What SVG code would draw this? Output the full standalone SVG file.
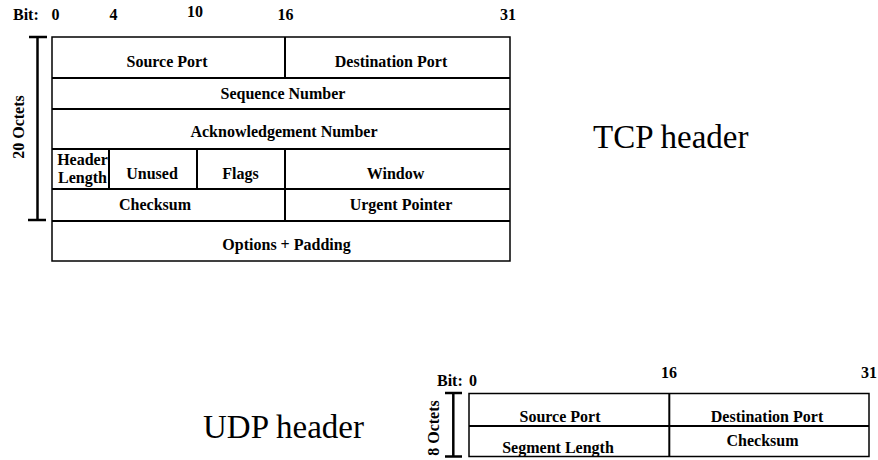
<svg xmlns="http://www.w3.org/2000/svg" width="878" height="460" viewBox="0 0 878 460">
<style>
.t{font-family:"Liberation Serif","Times New Roman",serif;font-size:16px;font-weight:bold;fill:#000}
.m{text-anchor:middle}
.big{font-family:"Liberation Serif","Times New Roman",serif;font-size:33px;fill:#000}
.box{fill:#fff;stroke:#000;stroke-width:1.5}
.ln{stroke:#000;stroke-width:2;fill:none}
.br{stroke:#000;stroke-width:2.5;fill:none}
</style>
<rect width="878" height="460" fill="#fff"/>

<g id="tcp-bits">
<text class="t" x="13" y="20">Bit:</text>
<text class="t m" x="55.5" y="20">0</text>
<text class="t m" x="113.5" y="20">4</text>
<text class="t m" x="195" y="17">10</text>
<text class="t m" x="285.5" y="20">16</text>
<text class="t m" x="508" y="20">31</text>
</g>

<g id="tcp-bracket">
<line class="br" x1="37.5" y1="37" x2="37.5" y2="220"/>
<line class="br" x1="29" y1="37" x2="47" y2="37"/>
<line class="br" x1="28" y1="220" x2="46" y2="220"/>
<text class="t m" transform="translate(23.5,127) rotate(-90)">20 Octets</text>
</g>

<g id="tcp-table">
<rect class="box" x="52" y="37" width="458" height="224"/>
<g id="tcp-lines">
<line class="ln" x1="52" y1="78" x2="510" y2="78"/>
<line class="ln" x1="52" y1="109" x2="510" y2="109"/>
<line class="ln" x1="52" y1="149" x2="510" y2="149"/>
<line class="ln" x1="52" y1="189" x2="510" y2="189"/>
<line class="ln" x1="52" y1="221" x2="510" y2="221"/>
<line class="ln" x1="285" y1="37" x2="285" y2="78"/>
<line class="ln" x1="109" y1="149" x2="109" y2="189"/>
<line class="ln" x1="197" y1="149" x2="197" y2="189"/>
<line class="ln" x1="285" y1="149" x2="285" y2="221"/>
</g>
<g id="tcp-source-port"><text class="t m" x="167" y="66.5">Source Port</text></g>
<g id="tcp-dest-port"><text class="t m" x="391" y="66.5">Destination Port</text></g>
<g id="tcp-seq"><text class="t m" x="283" y="98.5">Sequence Number</text></g>
<g id="tcp-ack"><text class="t m" x="284" y="136.5">Acknowledgement Number</text></g>
<g id="tcp-hlen"><text class="t m" x="82.5" y="165">Header</text><text class="t m" x="82.5" y="182.5">Length</text></g>
<g id="tcp-unused"><text class="t m" x="152" y="178.5">Unused</text></g>
<g id="tcp-flags"><text class="t m" x="240.5" y="178.5">Flags</text></g>
<g id="tcp-window"><text class="t m" x="395.5" y="178.5">Window</text></g>
<g id="tcp-checksum"><text class="t m" x="155" y="210">Checksum</text></g>
<g id="tcp-urgent"><text class="t m" x="401" y="210">Urgent Pointer</text></g>
<g id="tcp-options"><text class="t m" x="286.5" y="250">Options + Padding</text></g>
</g>

<g id="tcp-title"><text class="big" x="593" y="148">TCP header</text></g>
<g id="udp-title"><text class="big" x="203" y="438">UDP header</text></g>

<g id="udp-bits">
<text class="t" x="437" y="386">Bit:</text>
<text class="t" x="469" y="386">0</text>
<text class="t" x="661" y="378">16</text>
<text class="t" x="861" y="378">31</text>
</g>

<g id="udp-bracket">
<line class="br" x1="453.3" y1="393" x2="453.3" y2="456.5"/>
<line class="br" x1="445" y1="393" x2="462" y2="393"/>
<line class="br" x1="445" y1="456.5" x2="462" y2="456.5"/>
<text class="t m" transform="translate(438.5,428) rotate(-90)">8 Octets</text>
</g>

<g id="udp-table">
<rect class="box" x="469" y="393.5" width="400" height="63"/>
<line class="ln" x1="469" y1="426" x2="869" y2="426"/>
<line class="ln" x1="669.3" y1="393.5" x2="669.3" y2="456.5"/>
<g id="udp-source-port"><text class="t m" x="560" y="421.5">Source Port</text></g>
<g id="udp-dest-port"><text class="t m" x="767" y="421.5">Destination Port</text></g>
<g id="udp-seglen"><text class="t m" x="558" y="453">Segment Length</text></g>
<g id="udp-checksum"><text class="t m" x="762.5" y="445.5">Checksum</text></g>
</g>
</svg>
